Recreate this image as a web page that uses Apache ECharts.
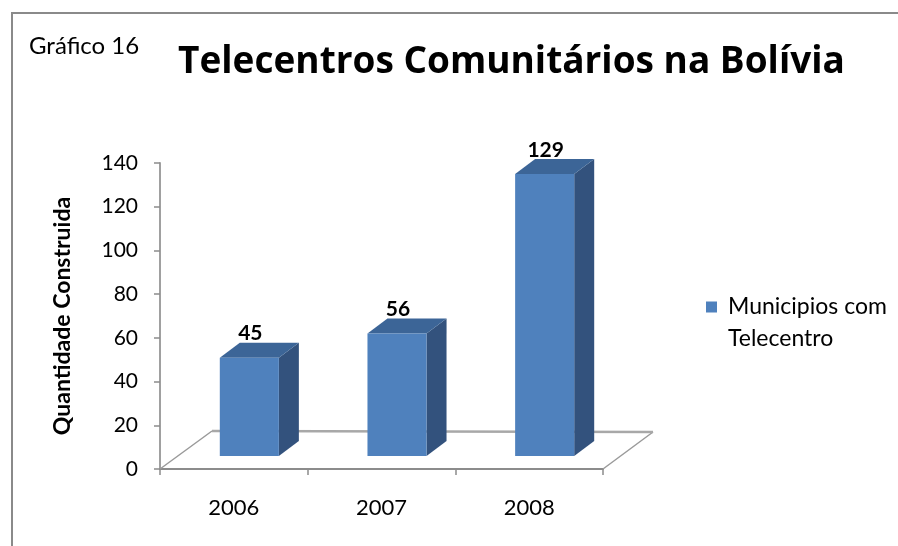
<!DOCTYPE html>
<html>
<head>
<meta charset="utf-8">
<style>
  html, body { margin: 0; padding: 0; background: #fff; }
  #chart { width: 898px; height: 546px; }
</style>
<script src="https://cdn.jsdelivr.net/npm/echarts@6/dist/echarts.min.js"></script>
</head>
<body>
<div id="chart"></div>
<script>
// dados
var anos = ['2006', '2007', '2008'];
var municipios = [45, 56, 129];
var nomeSerie = 'Municipios com Telecentro';

var FONT = 'Lato';
// deslocamento da barra no piso 3D e profundidade
var shiftX = 15.5, shiftY = 13;
var depthX = 20, depthY = 15;

var myChart = echarts.init(document.getElementById('chart'));

// barra 3D: frente, lado e topo
function renderBar(params, api) {
    var idx = api.value(0);
    var val = api.value(1);
    var base = api.coord([idx, 0]);
    var top = api.coord([idx, val]);
    var band = api.size([1, 0])[0];
    var w = band * 0.4;
    var x0 = base[0] - w / 2 + shiftX;
    var x1 = x0 + w;
    var yb = base[1] - shiftY;
    var yt = top[1] - shiftY;
    return {
        type: 'group',
        children: [
            {
                type: 'polygon',
                shape: { points: [[x1, yt], [x1 + depthX, yt - depthY], [x1 + depthX, yb - depthY], [x1, yb]] },
                style: { fill: '#33527d' }
            },
            {
                type: 'polygon',
                shape: { points: [[x0, yt], [x0 + depthX, yt - depthY], [x1 + depthX, yt - depthY], [x1, yt]] },
                style: { fill: '#3c6597' }
            },
            {
                type: 'rect',
                shape: { x: x0, y: yt, width: w, height: yb - yt },
                style: { fill: '#4f81bd' }
            },
            {
                type: 'text',
                x: (x0 + x1) / 2 + 1,
                y: yt - 24,
                style: {
                    text: String(val),
                    align: 'center',
                    verticalAlign: 'middle',
                    font: 'bold 21px ' + FONT,
                    fill: '#000'
                }
            }
        ]
    };
}

// piso em perspectiva
function renderFloor(params, api) {
    var cs = params.coordSys;
    var xl = cs.x, xr = cs.x + cs.width, yf = cs.y + cs.height;
    var bl = [xl + 52, yf - 38], br = [xr + 50, yf - 37];
    return {
        type: 'group',
        children: [
            { type: 'line', shape: { x1: xl, y1: yf, x2: bl[0], y2: bl[1] }, style: { stroke: '#9a9a9a', lineWidth: 1.5 } },
            { type: 'line', shape: { x1: xr, y1: yf, x2: br[0], y2: br[1] }, style: { stroke: '#9a9a9a', lineWidth: 1.5 } },
            { type: 'line', shape: { x1: bl[0], y1: bl[1], x2: br[0], y2: br[1] }, style: { stroke: '#a8a8a8', lineWidth: 2.5 } }
        ]
    };
}

var option = {
    animation: false,
    title: [
        {
            text: 'Gráfico 16',
            left: 29,
            top: 34,
            padding: 0,
            textStyle: { fontFamily: FONT, fontSize: 24, fontWeight: 'normal', color: '#000' }
        },
        {
            text: 'Telecentros Comunitários na Bolívia',
            left: 178,
            top: 44,
            padding: 0,
            textStyle: { fontFamily: 'Open Sans', fontSize: 37, fontWeight: 'bold', color: '#000' }
        }
    ],
    legend: {
        left: 706,
        top: 259,
        padding: 0,
        itemWidth: 11,
        itemHeight: 11,
        icon: 'rect',
        data: [{ name: nomeSerie, itemStyle: { color: '#4f81bd' } }],
        formatter: function () { return '\nMunicipios com\nTelecentro'; },
        textStyle: {
            fontFamily: FONT,
            fontSize: 23,
            color: '#000',
            lineHeight: 32,
            padding: [0, 0, 0, 6]
        }
    },
    graphic: [
        {
            type: 'rect',
            shape: { x: 12, y: 13, width: 1000, height: 1000 },
            style: { fill: 'none', stroke: '#8a8a8a', lineWidth: 2 },
            silent: true
        }
    ],
    grid: {
        left: 160,
        right: 295,
        top: 163,
        bottom: 77
    },
    xAxis: {
        type: 'category',
        data: anos,
        axisLine: { lineStyle: { color: '#8c8c8c', width: 2 } },
        axisTick: { show: true, length: 6, lineStyle: { color: '#8c8c8c', width: 1.5 } },
        axisLabel: { fontFamily: FONT, fontSize: 22, color: '#000', margin: 28 }
    },
    yAxis: {
        type: 'value',
        min: 0,
        max: 140,
        interval: 20,
        name: 'Quantidade Construida',
        nameLocation: 'middle',
        nameRotate: 90,
        nameGap: 86,
        nameTextStyle: { fontFamily: FONT, fontSize: 23, fontWeight: 'bold', color: '#000' },
        axisLine: { show: true, lineStyle: { color: '#a0a0a0', width: 2 } },
        axisTick: { show: true, length: 6, lineStyle: { color: '#8c8c8c', width: 1.5 } },
        axisLabel: { fontFamily: FONT, fontSize: 21, color: '#000', margin: 22 },
        splitLine: { show: false }
    },
    series: [
        {
            type: 'custom',
            name: 'piso',
            renderItem: renderFloor,
            data: [[0, 0]],
            silent: true,
            z: 1
        },
        {
            type: 'custom',
            name: nomeSerie,
            renderItem: renderBar,
            itemStyle: { color: '#4f81bd' },
            data: anos.map(function (a, i) { return [i, municipios[i]]; }),
            encode: { x: 0, y: 1 },
            z: 2
        }
    ]
};

myChart.setOption(option);
window.addEventListener('resize', function () {
    myChart.resize();
});
</script>
</body>
</html>
